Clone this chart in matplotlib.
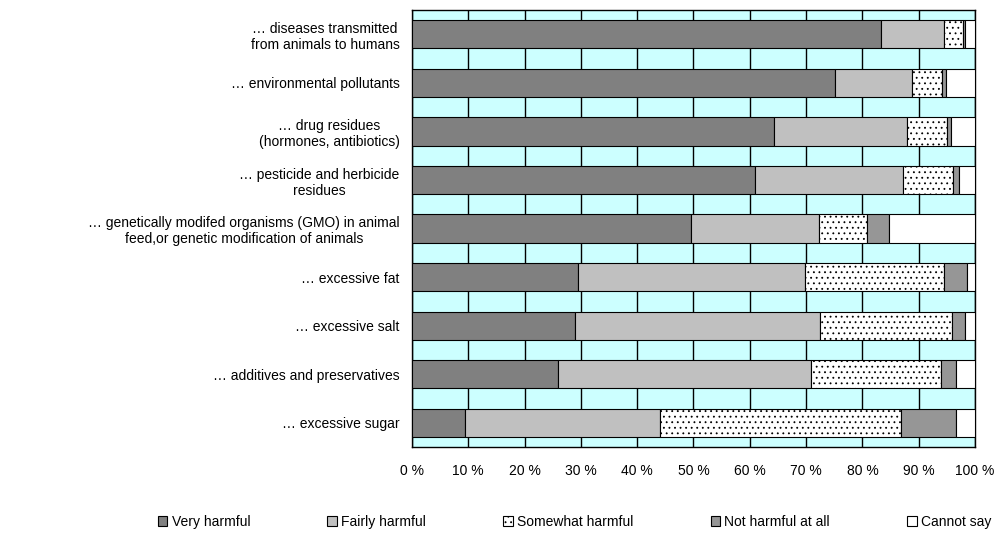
import numpy as np
import matplotlib
matplotlib.use("Agg")
import matplotlib.pyplot as plt

plt.rcParams['font.family'] = ['Liberation Sans', 'DejaVu Sans']
plt.rcParams['hatch.linewidth'] = 0.6

categories = [
    "… diseases transmitted\nfrom animals to humans",
    "… environmental pollutants",
    "… drug residues\n(hormones, antibiotics)",
    "… pesticide and herbicide\nresidues",
    "… genetically modifed organisms (GMO) in animal\nfeed,or genetic modification of animals",
    "… excessive fat",
    "… excessive salt",
    "… additives and preservatives",
    "… excessive sugar",
]
series_names = ["Very harmful", "Fairly harmful", "Somewhat harmful",
                "Not harmful at all", "Cannot say"]

very = [83.3, 75.1, 64.3, 60.9, 49.5, 29.5, 29.0, 25.9, 9.5]
fairly = [11.2, 13.8, 23.7, 26.3, 22.8, 40.3, 43.5, 44.9, 34.5]
somewhat = [3.4, 5.3, 7.1, 8.9, 8.6, 24.7, 23.4, 23.1, 42.9]
not_at_all = [0.4, 0.7, 0.7, 1.0, 3.9, 4.0, 2.3, 2.8, 9.8]
cannot = [1.7, 5.1, 4.2, 2.9, 15.2, 1.5, 1.8, 3.3, 3.3]

series = [very, fairly, somewhat, not_at_all, cannot]
colors = ["#808080", "#C0C0C0", "white", "#969696", "white"]
hatches = [None, None, "...", None, None]

fig = plt.figure(figsize=(10.01, 5.34), dpi=100)
ax = fig.add_axes([0.4116, 0.163, 0.5624, 0.818])
ax.set_facecolor("#CCFFFF")

y = np.arange(len(categories))
left = np.zeros(len(categories))
for name, vals, c, h in zip(series_names, series, colors, hatches):
    vals = np.array(vals)
    ax.barh(y, vals, left=left, height=0.58, color=c, edgecolor="black",
            linewidth=0.8, hatch=h, label=name, zorder=3)
    left += vals

ax.set_xlim(0, 100)
ax.set_ylim(len(categories) - 0.5, -0.5)
ax.set_xticks(np.arange(0, 101, 10))
ax.set_xticklabels([f"{v} %" for v in range(0, 101, 10)], fontsize=10)
ax.set_yticks(y)
ax.set_yticklabels(categories, fontsize=10, multialignment="center")
ax.tick_params(length=0, pad=9)
ax.tick_params(axis="x", pad=12)
ax.xaxis.grid(True, color="black", linewidth=1.0, zorder=1)
ax.set_axisbelow(True)
for s in ax.spines.values():
    s.set_color("black")
    s.set_linewidth(1.0)

fig.legend(*ax.get_legend_handles_labels(), loc="center",
           bbox_to_anchor=(0.574, 0.0225), ncol=5,
           frameon=False, fontsize=10, handlelength=0.7, handleheight=0.7,
           handletextpad=0.3, columnspacing=5.55)

fig.savefig("out.png", dpi=100)
